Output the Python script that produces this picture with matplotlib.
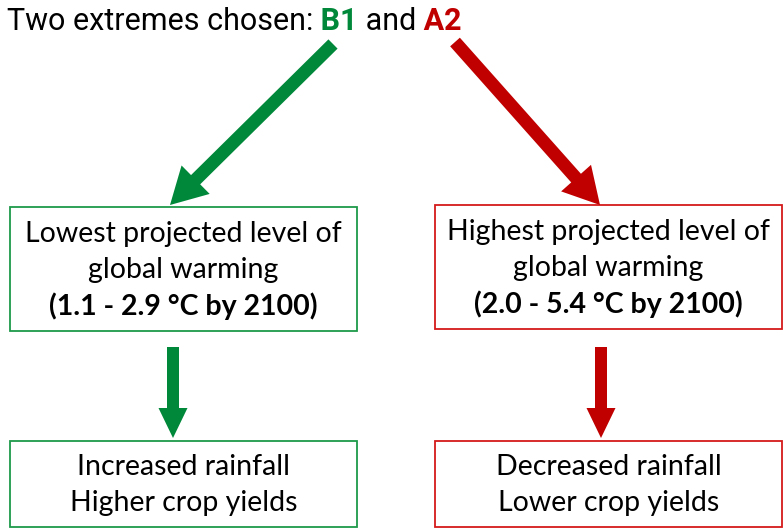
import matplotlib.pyplot as plt
from matplotlib.patches import Rectangle, FancyArrow

GREEN = '#00883A'
RED = '#C00000'
GREEN_EDGE = '#1E9A4A'
RED_EDGE = '#D41A1A'

# Title pieces (text, colour, weight)
title_parts = [('Two extremes chosen:', 'black', 'normal'),
               (' B1', GREEN, 'bold'),
               (' and', 'black', 'normal'),
               (' A2', RED, 'bold')]

# Box texts
mid_left = ['Lowest projected level of', 'global warming', '(1.1 - 2.9 °C by 2100)']
mid_right = ['Highest projected level of', 'global warming', '(2.0 - 5.4 °C by 2100)']
low_left = ['Increased rainfall', 'Higher crop yields']
low_right = ['Decreased rainfall', 'Lower crop yields']

fig = plt.figure(figsize=(7.84, 5.29), dpi=100)
ax = fig.add_axes([0, 0, 1, 1])
ax.set_xlim(0, 784)
ax.set_ylim(529, 0)
ax.axis('off')

# title, chained piece by piece
prev = ax.text(7, 21, title_parts[0][0], color=title_parts[0][1], fontweight=title_parts[0][2],
               fontsize=22, family='Roboto', va='center', ha='left')
for txt, col, w in title_parts[1:]:
    prev = ax.annotate(txt, xy=(1, 0), xycoords=prev, va='bottom', ha='left',
                       color=col, fontweight=w, fontsize=22, family='Roboto')


def box(x0, y0, x1, y1, edge, lines, y_lines, bold_last=False):
    ax.add_patch(Rectangle((x0, y0), x1 - x0, y1 - y0, fill=False, edgecolor=edge, lw=1.3))
    cx = (x0 + x1) / 2
    for i, (line, y) in enumerate(zip(lines, y_lines)):
        bold = bold_last and i == len(lines) - 1
        ax.text(cx, y, line, ha='center', va='center', fontsize=20.5, family='Lato',
                fontweight='bold' if bold else 'normal', color='black')


box(10, 207, 357, 331, GREEN_EDGE, mid_left, [234, 270, 306], bold_last=True)
box(435, 205, 782, 329, RED_EDGE, mid_right, [232, 268, 304], bold_last=True)
box(10, 441, 357, 527, GREEN_EDGE, low_left, [467, 503])
box(435, 441, 782, 527, RED_EDGE, low_right, [467, 503])

# diagonal arrows
ax.add_patch(FancyArrow(333, 44, 170 - 333, 205 - 44, width=13, head_width=40, head_length=36,
                        length_includes_head=True, color=GREEN, lw=0))
ax.add_patch(FancyArrow(455, 42, 600 - 455, 205 - 42, width=13, head_width=40, head_length=36,
                        length_includes_head=True, color=RED, lw=0))
# vertical arrows
ax.add_patch(FancyArrow(173, 347, 0, 91, width=12, head_width=29, head_length=30,
                        length_includes_head=True, color=GREEN, lw=0))
ax.add_patch(FancyArrow(601, 347, 0, 91, width=12, head_width=29, head_length=30,
                        length_includes_head=True, color=RED, lw=0))

fig.savefig('out.png', dpi=100)
